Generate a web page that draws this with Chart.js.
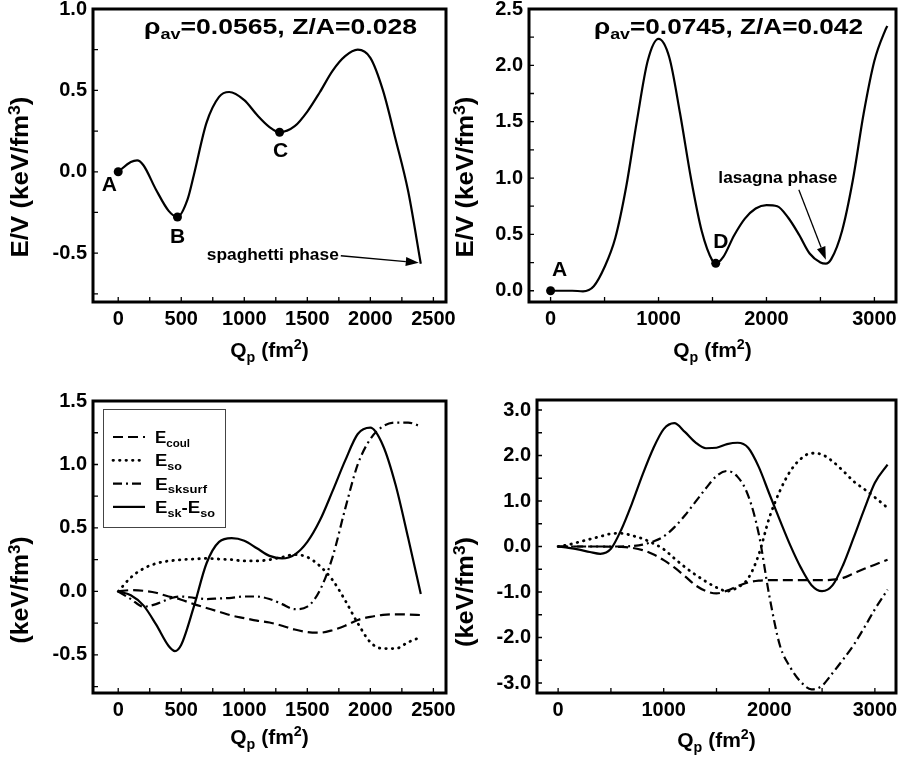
<!DOCTYPE html>
<html>
<head>
<meta charset="utf-8">
<script src="https://cdn.jsdelivr.net/npm/chart.js@4.4.1/dist/chart.umd.min.js"></script>
<style>
  body { margin: 0; background: #fff; }
  #wrap { position: relative; width: 902px; height: 757px; }
  canvas { position: absolute; left: 0; top: 0; }
</style>
</head>
<body>
<div id="wrap">
  <canvas id="c1" width="902" height="757"></canvas>
  <canvas id="c2" width="902" height="757"></canvas>
  <canvas id="c3" width="902" height="757"></canvas>
  <canvas id="c4" width="902" height="757"></canvas>
</div>
<script>
// ---- data ----
// top left: rho_av=0.0565
var qp1 = [0, 100, 150, 200, 300, 400, 470, 550, 600, 700, 800, 880, 1000, 1100, 1200, 1280, 1400, 1500, 1600, 1700, 1800, 1900, 2000, 2100, 2200, 2300, 2400];
var ev1 = [0, 0.06, 0.07, 0.04, -0.11, -0.24, -0.278, -0.17, -0.02, 0.30, 0.46, 0.49, 0.44, 0.35, 0.275, 0.243, 0.28, 0.37, 0.49, 0.62, 0.71, 0.75, 0.70, 0.50, 0.20, -0.12, -0.565];
var pts1Names = ["A", "B", "C"];
var pts1Qp = [0, 470, 1280];
var pts1Ev = [0, -0.278, 0.243];

// top right: rho_av=0.0745
var qp2 = [0, 100, 200, 300, 400, 500, 600, 700, 800, 900, 1000, 1100, 1200, 1300, 1400, 1500, 1530, 1600, 1700, 1800, 1900, 2000, 2100, 2200, 2300, 2400, 2500, 2550, 2600, 2700, 2800, 2900, 3000, 3100, 3120];
var ev2 = [0, 0, 0, -0.005, 0.04, 0.21, 0.47, 0.92, 1.51, 2.04, 2.235, 2.07, 1.57, 1.0, 0.53, 0.265, 0.243, 0.30, 0.49, 0.64, 0.73, 0.76, 0.75, 0.65, 0.50, 0.33, 0.25, 0.24, 0.28, 0.53, 0.98, 1.57, 2.04, 2.31, 2.35];
var pts2Names = ["A", "D"];
var pts2Qp = [0, 1530];
var pts2Ev = [0, 0.243];

// bottom left: energy terms for rho_av=0.0565
var qp3 = [0, 100, 200, 300, 400, 450, 500, 600, 700, 800, 900, 1000, 1100, 1200, 1300, 1400, 1500, 1600, 1700, 1800, 1900, 2000, 2100, 2200, 2300, 2400];
var coul3 = [0, 0.01, 0.005, -0.01, -0.04, -0.05, -0.065, -0.10, -0.13, -0.16, -0.19, -0.21, -0.23, -0.245, -0.27, -0.30, -0.32, -0.325, -0.305, -0.27, -0.225, -0.20, -0.185, -0.18, -0.182, -0.186];
var so3 = [0, 0.11, 0.18, 0.22, 0.24, 0.245, 0.25, 0.255, 0.26, 0.255, 0.25, 0.24, 0.24, 0.25, 0.27, 0.29, 0.27, 0.20, 0.09, -0.07, -0.25, -0.40, -0.45, -0.45, -0.40, -0.36];
var surf3 = [0, -0.06, -0.12, -0.10, -0.06, -0.045, -0.04, -0.05, -0.06, -0.055, -0.05, -0.04, -0.04, -0.06, -0.10, -0.14, -0.12, 0.01, 0.27, 0.65, 1.00, 1.20, 1.30, 1.33, 1.33, 1.30];
var skso3 = [0, -0.03, -0.11, -0.26, -0.43, -0.47, -0.42, -0.12, 0.22, 0.39, 0.42, 0.40, 0.34, 0.28, 0.26, 0.29, 0.39, 0.56, 0.79, 1.03, 1.24, 1.29, 1.15, 0.84, 0.42, -0.02];

// bottom right: energy terms for rho_av=0.0745
var qp4 = [0, 100, 200, 300, 400, 500, 600, 700, 800, 900, 1000, 1100, 1200, 1300, 1400, 1500, 1600, 1700, 1800, 1900, 2000, 2100, 2200, 2300, 2400, 2500, 2600, 2700, 2800, 2900, 3000, 3120];
var coul4 = [0, 0, 0, 0, 0, -0.005, -0.01, -0.03, -0.08, -0.17, -0.30, -0.46, -0.65, -0.85, -0.98, -1.03, -0.97, -0.87, -0.79, -0.75, -0.74, -0.74, -0.74, -0.74, -0.74, -0.74, -0.73, -0.69, -0.59, -0.49, -0.40, -0.29];
var so4 = [0, 0.04, 0.10, 0.16, 0.22, 0.28, 0.29, 0.24, 0.17, 0.07, -0.06, -0.26, -0.45, -0.62, -0.77, -0.90, -0.98, -0.90, -0.70, -0.18, 0.63, 1.22, 1.66, 1.93, 2.05, 2.02, 1.87, 1.66, 1.43, 1.26, 1.08, 0.85];
var surf4 = [0, 0, 0, 0, 0, 0, 0, 0.01, 0.04, 0.11, 0.22, 0.42, 0.68, 0.98, 1.28, 1.55, 1.66, 1.53, 1.12, 0.28, -1.08, -2.17, -2.66, -2.98, -3.14, -3.06, -2.78, -2.48, -2.16, -1.78, -1.38, -0.95];
var skso4 = [0, -0.03, -0.07, -0.12, -0.16, -0.05, 0.38, 0.95, 1.58, 2.15, 2.58, 2.71, 2.52, 2.29, 2.16, 2.17, 2.25, 2.28, 2.17, 1.75, 1.16, 0.58, 0.02, -0.47, -0.85, -0.98, -0.85, -0.40, 0.20, 0.82, 1.40, 1.80];

var seriesNames = ["E_{coul}", "E_{so}", "E_{sksurf}", "E_{sk}-E_{so}"];

// ---- drawing helpers ----
var W = 902, H = 757, YW = 60, XH = 40;
var FONT = '"Liberation Sans", Arial, Helvetica, sans-serif';
var DASH = { coul: [10, 5], so: [0.5, 6], surf: [9, 4, 2, 4], skso: [] };

function parseRich(s) {
  var out = [], re = /([_^])\{([^}]*)\}|([^_^]+)/g, m;
  while ((m = re.exec(s))) {
    if (m[1]) out.push({ t: m[2], k: m[1] == "_" ? "sub" : "sup" });
    else out.push({ t: m[3], k: "n" });
  }
  return out;
}

// text with sub/superscripts; fit stretches it to a given width
function richText(ctx, str, x, y, size, align, fit) {
  var segs = parseRich(str), w = 0;
  segs.forEach(function (g) {
    g.size = g.k == "n" ? size : size * 0.68;
    ctx.font = "bold " + g.size + "px " + FONT;
    g.w = ctx.measureText(g.t).width;
    w += g.w;
  });
  var sx = fit ? fit / w : 1, total = w * sx;
  var cx = align == "center" ? x - total / 2 : align == "right" ? x - total : x;
  ctx.save();
  ctx.translate(cx, y);
  ctx.scale(sx, 1);
  ctx.textAlign = "left";
  ctx.textBaseline = "alphabetic";
  ctx.fillStyle = "#000";
  var px = 0;
  segs.forEach(function (g) {
    ctx.font = "bold " + g.size + "px " + FONT;
    var dy = g.k == "sub" ? size * 0.22 : g.k == "sup" ? -size * 0.36 : 0;
    ctx.fillText(g.t, px, dy);
    px += g.w;
  });
  ctx.restore();
}

function arrow(ctx, x0, y0, x1, y1) {
  var a = Math.atan2(y1 - y0, x1 - x0), L = 13, hw = 4.5;
  ctx.beginPath();
  ctx.moveTo(x0, y0);
  ctx.lineTo(x1 - L * Math.cos(a), y1 - L * Math.sin(a));
  ctx.lineWidth = 1.3;
  ctx.stroke();
  ctx.beginPath();
  ctx.moveTo(x1, y1);
  ctx.lineTo(x1 - L * Math.cos(a) + hw * Math.sin(a), y1 - L * Math.sin(a) - hw * Math.cos(a));
  ctx.lineTo(x1 - L * Math.cos(a) - hw * Math.sin(a), y1 - L * Math.sin(a) + hw * Math.cos(a));
  ctx.closePath();
  ctx.fill();
}

var deco = {
  id: "deco",
  afterDatasetsDraw: function (chart, args, o) {
    var ctx = chart.ctx, a = chart.chartArea, x = chart.scales.x, y = chart.scales.y;
    ctx.save();
    ctx.strokeStyle = "#000";
    ctx.fillStyle = "#000";
    // inward tick marks
    ctx.lineWidth = 1.3;
    ctx.beginPath();
    x.ticks.forEach(function (t) {
      if (t.value <= x.min || t.value >= x.max) return;
      var p = x.getPixelForValue(t.value);
      ctx.moveTo(p, a.bottom);
      ctx.lineTo(p, a.bottom - 5);
    });
    y.ticks.forEach(function (t) {
      if (t.value <= y.min || t.value >= y.max) return;
      var p = y.getPixelForValue(t.value);
      ctx.moveTo(a.left, p);
      ctx.lineTo(a.left + 5, p);
    });
    ctx.stroke();
    // frame
    ctx.lineWidth = 3;
    ctx.strokeRect(a.left, a.top, a.right - a.left, a.bottom - a.top);

    // axis titles
    richText(ctx, o.xTitle, (a.left + a.right) / 2, o.xTitleY, 21, "center");
    ctx.save();
    ctx.translate(o.yTitle[1], o.yTitle[2]);
    ctx.rotate(-Math.PI / 2);
    richText(ctx, o.yTitle[0], 0, 23 * 0.3, 23, "center", o.yTitle[3]);
    ctx.restore();

    if (o.title) richText(ctx, o.title[0], o.title[1], o.title[2], 22, "left", o.title[3]);

    // point labels, anchored to the marked points
    (o.labels || []).forEach(function (l) {
      var px = x.getPixelForValue(l.qp) + l.dx, py = y.getPixelForValue(l.ev) + l.dy;
      richText(ctx, l.text, px, py + 7.5, 21, "center");
    });

    if (o.arrow) {
      var r = o.arrow;
      var bx = x.getPixelForValue(r.qp), by = y.getPixelForValue(r.ev);
      var tx = bx + r.tail[0], ty = by + r.tail[1];
      arrow(ctx, tx, ty, bx + r.tip[0], by + r.tip[1]);
      richText(ctx, r.text, tx + r.textAt[0], ty + r.textAt[1], 16, r.align, r.fit);
    }

    if (o.legend) {
      var g = o.legend, lx = a.left + g.dx, ly = a.top + g.dy;
      ctx.lineWidth = 1;
      ctx.strokeStyle = "#444";
      ctx.strokeRect(lx + 0.5, ly + 0.5, g.w, g.h);
      ctx.strokeStyle = "#000";
      chart.data.datasets.forEach(function (ds, i) {
        if (!ds.label) return;
        var base = ly + 34 + i * 23.3;
        ctx.save();
        ctx.lineWidth = ds.borderWidth;
        ctx.lineCap = ds.borderCapStyle || "butt";
        ctx.setLineDash(ds.borderDash || []);
        ctx.beginPath();
        ctx.moveTo(lx + 10, base - 6);
        ctx.lineTo(lx + 42, base - 6);
        ctx.stroke();
        ctx.restore();
        richText(ctx, ds.label, lx + 52, base, 17, "left", g.fits[i]);
      });
    }
    ctx.restore();
  }
};

function curve(xs, ys, dash, label) {
  return {
    label: label,
    data: xs.map(function (v, i) { return { x: v, y: ys[i] }; }),
    showLine: true,
    borderColor: "#000",
    borderWidth: dash == DASH.so ? 2.8 : 2.2,
    borderDash: dash,
    borderCapStyle: dash == DASH.so ? "round" : "butt",
    pointRadius: 0,
    cubicInterpolationMode: "monotone",
    fill: false
  };
}

function dots(xs, ys) {
  return {
    data: xs.map(function (v, i) { return { x: v, y: ys[i] }; }),
    showLine: false,
    pointRadius: 4.5,
    pointBackgroundColor: "#000",
    pointBorderWidth: 0
  };
}

function onStep(v, step) {
  return Math.abs(v / step - Math.round(v / step)) < 1e-6;
}

// ticks on every multiple of step inside the range (no extra ticks at the bounds)
function stepTicks(min, max, step) {
  return function (s) {
    var t = [];
    for (var k = Math.ceil(min / step - 1e-9); k * step <= max + 1e-9; k++) {
      t.push({ value: Math.round(k * step * 1000) / 1000 });
    }
    s.ticks = t;
  };
}

function makeChart(id, box, xr, yr, datasets, opts) {
  var tickFont = { family: FONT, size: 20, weight: "bold" };
  return new Chart(document.getElementById(id), {
    type: "scatter",
    data: { datasets: datasets },
    options: {
      responsive: false,
      animation: false,
      devicePixelRatio: 1,
      layout: { padding: { left: box[0] - YW, top: box[1], right: W - box[2], bottom: H - box[3] - XH } },
      plugins: { legend: { display: false }, tooltip: { enabled: false }, deco: opts },
      scales: {
        x: {
          type: "linear", min: xr[0], max: xr[1],
          afterBuildTicks: stepTicks(xr[0], xr[1], xr[2]),
          afterFit: function (s) { s.height = XH; s.paddingLeft = 0; s.paddingRight = 0; },
          grid: { display: false, drawTicks: false },
          border: { display: false },
          ticks: {
            autoSkip: false, maxRotation: 0, minRotation: 0,
            padding: 5, color: "#000", font: tickFont,
            callback: function (v) { return onStep(v, xr[3]) ? String(v) : ""; }
          }
        },
        y: {
          type: "linear", min: yr[0], max: yr[1],
          afterBuildTicks: stepTicks(yr[0], yr[1], yr[2]),
          afterFit: function (s) { s.width = YW; s.paddingTop = 0; s.paddingBottom = 0; },
          grid: { display: false, drawTicks: false },
          border: { display: false },
          ticks: {
            autoSkip: false,
            padding: 6, color: "#000", font: tickFont,
            callback: function (v) { return onStep(v, yr[3]) ? v.toFixed(1) : ""; }
          }
        }
      }
    },
    plugins: [deco]
  });
}

function pointLabels(names, qs, es, offs) {
  return names.map(function (n, i) { return { text: n, qp: qs[i], ev: es[i], dx: offs[i][0], dy: offs[i][1] }; });
}

// ---- top left ----
makeChart("c1", [93, 9, 446, 302], [-200, 2600, 250, 500], [-0.8, 1.0, 0.25, 0.5],
  [curve(qp1, ev1, DASH.skso), dots(pts1Qp, pts1Ev)],
  {
    xTitle: "Q_{p} (fm^{2})", xTitleY: 357,
    yTitle: ["E/V (keV/fm^{3})", 21, 177, 161],
    title: ["\u03c1_{av}=0.0565, Z/A=0.028", 144, 34, 273],
    labels: pointLabels(pts1Names, pts1Qp, pts1Ev, [[-9, 12], [0, 18], [1, 17]]),
    arrow: { text: "spaghetti phase", qp: qp1[qp1.length - 1], ev: ev1[ev1.length - 1],
             tip: [-2, -1], tail: [-80, -8], textAt: [-2, 4], align: "right", fit: 132 }
  });

// ---- top right ----
makeChart("c2", [529, 9, 896, 302], [-200, 3200, 500, 1000], [-0.1, 2.5, 0.25, 0.5],
  [curve(qp2, ev2, DASH.skso), dots(pts2Qp, pts2Ev)],
  {
    xTitle: "Q_{p} (fm^{2})", xTitleY: 357,
    yTitle: ["E/V (keV/fm^{3})", 466, 177, 161],
    title: ["\u03c1_{av}=0.0745, Z/A=0.042", 594, 34, 269],
    labels: pointLabels(pts2Names, pts2Qp, pts2Ev, [[9, -22], [5, -23]]),
    arrow: { text: "lasagna phase", qp: 2550, ev: 0.24,
             tip: [0, -4], tail: [-27, -74], textAt: [-21, -7], align: "center", fit: 119 }
  });

// ---- bottom left ----
makeChart("c3", [93, 401, 446, 693], [-200, 2600, 250, 500], [-0.8, 1.5, 0.25, 0.5],
  [curve(qp3, coul3, DASH.coul, seriesNames[0]), curve(qp3, so3, DASH.so, seriesNames[1]),
   curve(qp3, surf3, DASH.surf, seriesNames[2]), curve(qp3, skso3, DASH.skso, seriesNames[3])],
  {
    xTitle: "Q_{p} (fm^{2})", xTitleY: 744,
    yTitle: ["(keV/fm^{3})", 21, 590, 107],
    legend: { dx: 10, dy: 8, w: 122, h: 118, fits: [35, 27, 52, 60] }
  });

// ---- bottom right ----
makeChart("c4", [537, 400, 896, 693], [-200, 3200, 500, 1000], [-3.22, 3.22, 0.5, 1.0],
  [curve(qp4, coul4, DASH.coul), curve(qp4, so4, DASH.so),
   curve(qp4, surf4, DASH.surf), curve(qp4, skso4, DASH.skso)],
  {
    xTitle: "Q_{p} (fm^{2})", xTitleY: 747,
    yTitle: ["(keV/fm^{3})", 466, 592, 110]
  });
</script>
</body>
</html>
